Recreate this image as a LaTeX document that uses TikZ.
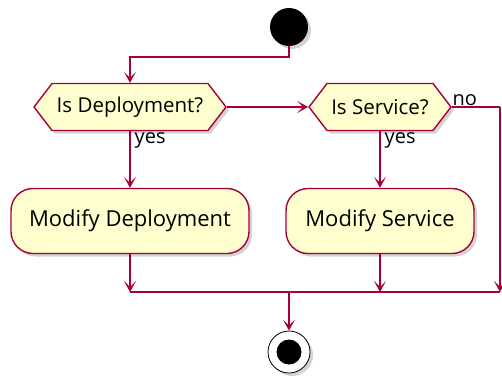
\documentclass[tikz,border=0pt]{standalone}
\usepackage{fontspec}
\setmainfont{Open Sans}
\usetikzlibrary{arrows.meta,shapes.symbols,shadows}

\definecolor{umlred}{HTML}{A80036}
\definecolor{umlfill}{HTML}{FEFECE}

\begin{document}
\begin{tikzpicture}[
                x=1pt,y=-1pt,
                every node/.style={inner sep=0pt},
                flow/.style={draw=umlred,line width=1.4pt,-{Stealth[length=11pt,width=12pt,inset=6pt]}},
                line/.style={draw=umlred,line width=1.4pt},
                shade/.style={drop shadow={opacity=0.35,shadow xshift=3pt,shadow yshift=-3pt}},
                decision/.style={signal,signal to=west and east,signal pointer angle=105,
                    draw=umlred,line width=1.4pt,fill=umlfill,minimum height=47pt,
                    font=\fontsize{20.5}{23}\selectfont,shade},
                activity/.style={rectangle,rounded corners=22pt,draw=umlred,line width=1.4pt,
                    fill=umlfill,minimum height=65pt,font=\fontsize{22}{25}\selectfont,shade},
                guard/.style={font=\fontsize{20}{23}\selectfont}
            ]
                \useasboundingbox (0,0) rectangle (502,381);
                \node[circle,fill=black,minimum size=38pt,shade] (start) at (289,27) {};
                \node[decision,minimum width=192pt] (isdep) at (130,107) {Is Deployment?};
                \node[decision,minimum width=142pt] (issvc) at (380,107) {Is Service?};
                \node[activity,minimum width=238pt] (moddep) at (130,221) {Modify Deployment};
                \node[activity,minimum width=188pt] (modsvc) at (380,221) {Modify Service};
                \coordinate (merge) at (289,292);
                \coordinate (right) at (500,107);
                \node[circle,draw=black,line width=0.8pt,fill=white,minimum size=42pt,shade,
                    path picture={\fill[black] (path picture bounding box.center) circle (12.5pt);}]
                    (stop) at (289,352) {};

                \draw[flow] (start.south) |- (130,57) -- (isdep.north);
                \draw[flow] (isdep.east) -- (issvc.west);
                \draw[flow] (isdep.south) -- node[guard,anchor=north west,pos=0.02,xshift=4pt] {yes} (moddep.north);
                \draw[flow] (issvc.south) -- node[guard,anchor=north west,pos=0.02,xshift=4pt] {yes} (modsvc.north);
                \draw[line] (issvc.east) -- node[guard,anchor=south west,pos=0,yshift=1pt] {no} (right);
                \draw[flow] (right) -- (right |- merge);
                \draw[flow] (moddep.south) -- (moddep |- merge);
                \draw[flow] (modsvc.south) -- (modsvc |- merge);
                \draw[line] (moddep |- merge) -- (right |- merge);
                \draw[flow] (merge) -- (stop.north);
            \end{tikzpicture}
\end{document}
